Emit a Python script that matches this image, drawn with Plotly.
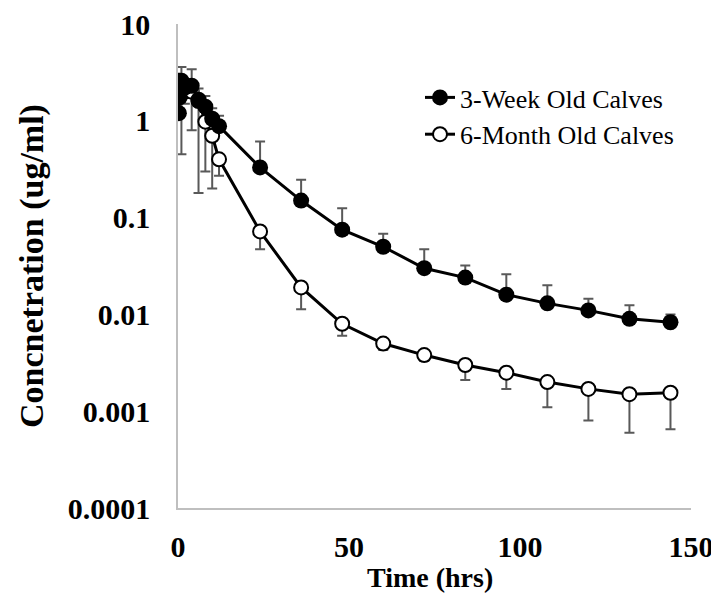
import plotly.graph_objects as go

# Data
time_hrs = [0.25, 0.5, 1, 2, 4, 6, 8, 10, 12, 24, 36, 48, 60, 72, 84, 96, 108, 120, 132, 144]

week3_conc = [1.2, 1.75, 2.6, 2.2, 2.3, 1.65, 1.4, 1.05, 0.88, 0.33, 0.15, 0.075, 0.05, 0.03,
              0.024, 0.016, 0.013, 0.011, 0.009, 0.0083]
week3_err_plus = [0, 0, 1.0, 0.5, 1.1, 0.5, 0.4, 0.3, 0.25, 0.28, 0.096, 0.05, 0.018, 0.017,
                  0.008, 0.01, 0.007, 0.0035, 0.0034, 0.0017]

month6_conc = [2.4, 2.6, 2.35, 2.0, 2.0, 1.6, 0.98, 0.7, 0.4, 0.072, 0.019, 0.008, 0.005, 0.0038,
               0.003, 0.0025, 0.002, 0.0017, 0.0015, 0.00155]
month6_err_minus = [0, 0, 1.9, 0.5, 1.2, 1.42, 0.68, 0.5, 0.13, 0.025, 0.0077, 0.002, 0.0007, 0.0005,
                    0.0009, 0.0008, 0.0009, 0.0009, 0.0009, 0.0009]

x_ticks = [0, 50, 100, 150]
y_tickvals = [10, 1, 0.1, 0.01, 0.001, 0.0001]
y_ticktext = ["10", "1", "0.1", "0.01", "0.001", "0.0001"]

FONT = "Liberation Serif"
ERR_COLOR = "#595959"

W, H = 719, 597
L, R, T, B = 170, 36, 16, 97
PW, PH = W - L - R, H - T - B

fig = go.Figure()

fig.add_trace(go.Scatter(
    x=time_hrs, y=month6_conc, mode="lines+markers", name="6-Month Old Calves",
    line=dict(color="black", width=3),
    marker=dict(symbol="circle", size=14, color="white", line=dict(color="black", width=2)),
    error_y=dict(type="data", symmetric=False, array=[0] * len(time_hrs),
                 arrayminus=month6_err_minus, color=ERR_COLOR, thickness=2, width=5),
    legendrank=2,
))

fig.add_trace(go.Scatter(
    x=time_hrs, y=week3_conc, mode="lines+markers", name="3-Week Old Calves",
    line=dict(color="black", width=3),
    marker=dict(symbol="circle", size=16, color="black"),
    error_y=dict(type="data", symmetric=False, array=week3_err_plus,
                 arrayminus=[0] * len(time_hrs), color=ERR_COLOR, thickness=2, width=5),
    legendrank=1,
))

fig.update_layout(
    width=W, height=H,
    margin=dict(l=L, r=R, t=T, b=B),
    paper_bgcolor="white", plot_bgcolor="white",
    font=dict(family=FONT, color="black"),
    showlegend=True,
    legend=dict(x=(412 - L) / PW, y=1 - (66 - T) / PH, xanchor="left", yanchor="top",
                font=dict(family=FONT, size=26, color="black"),
                bgcolor="rgba(0,0,0,0)", itemwidth=30, tracegroupgap=0),
    annotations=[
        dict(text="<b>Time (hrs)</b>", xref="paper", yref="paper",
             x=(422 - L) / PW, y=-(569 - (H - B)) / PH, xanchor="center", yanchor="middle",
             showarrow=False, font=dict(family=FONT, size=28, color="black")),
        dict(text="<b>Concnetration (ug/ml)</b>", xref="paper", yref="paper",
             x=-(L - 24) / PW, y=1 - (258 - T) / PH, xanchor="center", yanchor="middle",
             textangle=-90, showarrow=False, font=dict(family=FONT, size=34, color="black")),
    ],
)

fig.update_xaxes(
    range=[0, 150], tickvals=x_ticks, ticks="", showgrid=False, zeroline=False,
    showline=True, linecolor="#bfbfbf", linewidth=1.5, automargin=False,
    tickfont=dict(family=FONT, size=30, color="black", weight="bold"),
    ticklabelstandoff=11, ticklabeloverflow="allow",
)

fig.update_yaxes(
    type="log", range=[-4, 1], tickvals=y_tickvals, ticktext=y_ticktext, ticks="",
    showgrid=False, zeroline=False, showline=True, linecolor="#bfbfbf", linewidth=1.5,
    automargin=False,
    tickfont=dict(family=FONT, size=30, color="black", weight="bold"),
    ticklabelstandoff=20, ticklabeloverflow="allow",
)

fig.write_html("out.html")
